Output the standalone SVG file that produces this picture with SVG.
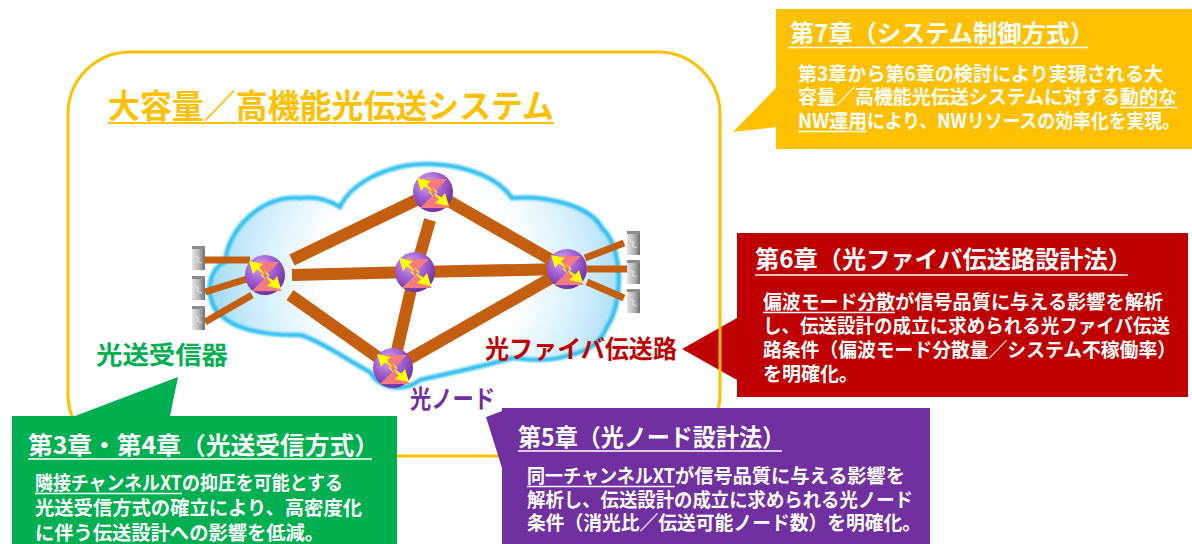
<svg xmlns="http://www.w3.org/2000/svg" xmlns:xlink="http://www.w3.org/1999/xlink" width="1192" height="544" viewBox="0 0 1192 544">
  <style>
    .t{font-family:"Noto Sans CJK JP","Noto Sans",sans-serif;font-weight:700}
    .h{font-size:24px}
    .b{font-size:19.5px}
    .lb{font-size:25px}
    .w{fill:#fff}
    .ul{stroke:#fff;stroke-width:1.6}
    .link{stroke:#C55F10;stroke-width:12;fill:none}
    .slink{stroke:#C55F10;stroke-width:7;fill:none}
  </style>
  <defs>
    <radialGradient id="cloudFill" gradientUnits="userSpaceOnUse" cx="420" cy="275" r="225">
      <stop offset="0" stop-color="#FFFFFF"/>
      <stop offset="0.45" stop-color="#FFFFFF"/>
      <stop offset="0.75" stop-color="#CDECFA"/>
      <stop offset="1" stop-color="#8FD3F2"/>
    </radialGradient>
    <radialGradient id="sph" cx="0.38" cy="0.3" r="0.75">
      <stop offset="0" stop-color="#D9A9F3"/>
      <stop offset="0.45" stop-color="#A663D6"/>
      <stop offset="1" stop-color="#6C2C9A"/>
    </radialGradient>
    <linearGradient id="srv" x1="0" y1="0" x2="1" y2="0">
      <stop offset="0" stop-color="#E6E6E6"/>
      <stop offset="0.55" stop-color="#B4B4B4"/>
      <stop offset="1" stop-color="#6E6E6E"/>
    </linearGradient>
    <filter id="soft" x="-10%" y="-10%" width="120%" height="120%">
      <feGaussianBlur stdDeviation="1.3"/>
    </filter>
    <!-- optical cross-connect icon: sphere, pink hourglass, two yellow arrows -->
    <g id="oxc">
      <circle r="20" fill="url(#sph)"/>
      <path d="M-16,-13 L14,-13 L-1,2 Z M-13,16 L17,16 L2,1 Z" fill="#F47C80"/>
      <path id="arw" d="M-16,-14 L-2,-11 L-6,-7.5 L-1,-2 L-3,-1 L1,5 L-4.5,0 L-2.5,-2 L-8.5,-5.5 L-12,-1 Z" fill="#FFFF00"/>
      <use xlink:href="#arw" href="#arw" transform="rotate(180)"/>
    </g>
    <!-- rack server -->
    <g id="server">
      <rect width="13" height="24" fill="url(#srv)"/>
      <rect width="13" height="3" fill="#8C8C8C"/>
      <path d="M3,10 L7,12 L5,15 L10,17" stroke="#F4F4F4" stroke-width="0.8" fill="none"/>
    </g>
  </defs>

  <rect width="1192" height="544" fill="#FFFFFF"/>

  <!-- chapter 6 callout (sits under the system frame line) -->
  <g id="callout-ch6">
    <path d="M737,233 H1188 V397 H737 V380 L682,349 L737,318 Z" fill="#C00000"/>
    <text class="t h w" x="755" y="268" textLength="377" lengthAdjust="spacingAndGlyphs">第6章（光ファイバ伝送路設計法）</text>
    <line class="ul" x1="755" y1="275" x2="1128" y2="275"/>
    <text class="t b w" x="763" y="309" textLength="132" lengthAdjust="spacingAndGlyphs">偏波モード分散</text>
    <line class="ul" x1="763" y1="312.5" x2="895" y2="312.5"/>
    <text class="t b w" x="895" y="309" textLength="268" lengthAdjust="spacingAndGlyphs">が信号品質に与える影響を解析</text>
    <text class="t b w" x="763" y="333" textLength="407" lengthAdjust="spacingAndGlyphs">し、伝送設計の成立に求められる光ファイバ伝送</text>
    <text class="t b w" x="763" y="357" textLength="413" lengthAdjust="spacingAndGlyphs">路条件（偏波モード分散量／システム不稼働率）</text>
    <text class="t b w" x="763" y="381" textLength="95" lengthAdjust="spacingAndGlyphs">を明確化。</text>
  </g>

  <!-- system frame -->
  <g id="system-frame">
    <rect x="68" y="52" width="652" height="404" rx="62" ry="62" fill="none" stroke="#FFC000" stroke-width="3"/>
    <text class="t" x="108" y="118" font-size="33" fill="#FFC000" textLength="446" lengthAdjust="spacingAndGlyphs">大容量／高機能光伝送システム</text>
    <line x1="108" y1="123" x2="554" y2="123" stroke="#FFC000" stroke-width="2"/>
  </g>

  <!-- network cloud -->
  <g id="cloud">
    <path id="cloudShape" d="M222,316 C205,305 205,270 225,262 C228,228 262,195 300,198 C318,196 332,202 340,207 C350,185 385,163 430,164 C470,165 500,180 512,198 C545,195 590,205 602,228 C622,245 625,300 607,327 C600,345 585,352 570,355 C550,362 530,360 512,358 C490,365 440,375 420,380 C405,392 380,390 370,372 C350,362 320,340 300,335 C270,336 235,330 222,316 Z" fill="url(#cloudFill)"/>
    <path d="M222,316 C205,305 205,270 225,262 C228,228 262,195 300,198 C318,196 332,202 340,207 C350,185 385,163 430,164 C470,165 500,180 512,198 C545,195 590,205 602,228 C622,245 625,300 607,327 C600,345 585,352 570,355 C550,362 530,360 512,358 C490,365 440,375 420,380 C405,392 380,390 370,372 C350,362 320,340 300,335 C270,336 235,330 222,316 Z" fill="none" stroke="#30C0F0" stroke-width="4.5" filter="url(#soft)"/>
  </g>

  <!-- fibre links -->
  <g id="connectors">
    <line class="link" x1="292" y1="260" x2="433" y2="192"/>
    <line class="link" x1="292" y1="275" x2="415" y2="272"/>
    <line class="link" x1="290" y1="295" x2="393" y2="368"/>
    <line class="link" x1="430" y1="220" x2="415" y2="272"/>
    <line class="link" x1="433" y1="192" x2="567" y2="269"/>
    <line class="link" x1="415" y1="272" x2="567" y2="269"/>
    <line class="link" x1="415" y1="272" x2="393" y2="368"/>
    <line class="link" x1="393" y1="368" x2="567" y2="269"/>
    <line class="slink" x1="205" y1="260" x2="250" y2="260"/>
    <line class="slink" x1="205" y1="292" x2="250" y2="278"/>
    <line class="slink" x1="205" y1="322" x2="252" y2="295"/>
    <line class="slink" x1="585" y1="258" x2="624" y2="243"/>
    <line class="slink" x1="587" y1="269" x2="628" y2="269"/>
    <line class="slink" x1="587" y1="282" x2="624" y2="298"/>
  </g>

  <!-- transceivers -->
  <g id="servers-left">
    <use xlink:href="#server" href="#server" x="192" y="246"/>
    <use xlink:href="#server" href="#server" x="192" y="276"/>
    <use xlink:href="#server" href="#server" x="192" y="306"/>
  </g>
  <g id="servers-right">
    <use xlink:href="#server" href="#server" x="627" y="231"/>
    <use xlink:href="#server" href="#server" x="627" y="260"/>
    <use xlink:href="#server" href="#server" x="627" y="289"/>
  </g>

  <!-- optical nodes -->
  <g id="node-west"><use xlink:href="#oxc" href="#oxc" x="265" y="275"/></g>
  <g id="node-north"><use xlink:href="#oxc" href="#oxc" x="433" y="192"/></g>
  <g id="node-centre"><use xlink:href="#oxc" href="#oxc" x="415" y="272"/></g>
  <g id="node-east"><use xlink:href="#oxc" href="#oxc" x="567" y="269"/></g>
  <g id="node-south"><use xlink:href="#oxc" href="#oxc" x="393" y="368"/></g>

  <!-- component labels -->
  <g id="labels">
    <text class="t lb" x="96" y="364" fill="#00B050" textLength="132" lengthAdjust="spacingAndGlyphs">光送受信器</text>
    <text class="t lb" x="485" y="358" fill="#C00000" textLength="192" lengthAdjust="spacingAndGlyphs">光ファイバ伝送路</text>
    <text class="t lb" x="410" y="408" fill="#7030A0" textLength="85" lengthAdjust="spacingAndGlyphs">光ノード</text>
  </g>

  <!-- chapter 3/4 callout -->
  <g id="callout-ch34">
    <path d="M12,416 H75 L178,377 L170,416 H397 V544 H12 Z" fill="#00B050"/>
    <text class="t h w" x="28" y="454" textLength="351" lengthAdjust="spacingAndGlyphs">第3章・第4章（光送受信方式）</text>
    <line class="ul" x1="28" y1="459" x2="372" y2="459"/>
    <text class="t b w" x="35" y="490" textLength="147" lengthAdjust="spacingAndGlyphs">隣接チャンネルXT</text>
    <line class="ul" x1="35" y1="493.5" x2="182" y2="493.5"/>
    <text class="t b w" x="182" y="490" textLength="161" lengthAdjust="spacingAndGlyphs">の抑圧を可能とする</text>
    <text class="t b w" x="35" y="515" textLength="327" lengthAdjust="spacingAndGlyphs">光送受信方式の確立により、高密度化</text>
    <text class="t b w" x="35" y="540" textLength="289" lengthAdjust="spacingAndGlyphs">に伴う伝送設計への影響を低減。</text>
  </g>

  <!-- chapter 5 callout -->
  <g id="callout-ch5">
    <path d="M502,408 H930 V544 H502 V468 L486,417 L502,411 Z" fill="#7030A0"/>
    <text class="t h w" x="518" y="446" textLength="267" lengthAdjust="spacingAndGlyphs">第5章（光ノード設計法）</text>
    <line class="ul" x1="518" y1="451" x2="782" y2="451"/>
    <text class="t b w" x="527" y="483" textLength="148" lengthAdjust="spacingAndGlyphs">同一チャンネルXT</text>
    <line class="ul" x1="527" y1="486.5" x2="675" y2="486.5"/>
    <text class="t b w" x="675" y="483" textLength="230" lengthAdjust="spacingAndGlyphs">が信号品質に与える影響を</text>
    <text class="t b w" x="527" y="507" textLength="386" lengthAdjust="spacingAndGlyphs">解析し、伝送設計の成立に求められる光ノード</text>
    <text class="t b w" x="527" y="530" textLength="394" lengthAdjust="spacingAndGlyphs">条件（消光比／伝送可能ノード数）を明確化。</text>
  </g>

  <!-- chapter 7 callout -->
  <g id="callout-ch7">
    <path d="M776,9 H1192 V149 H776 V127 L733,132 L776,88 Z" fill="#FFC000"/>
    <text class="t h w" x="790" y="42" textLength="304" lengthAdjust="spacingAndGlyphs">第7章（システム制御方式）</text>
    <line class="ul" x1="788" y1="47.5" x2="1088" y2="47.5"/>
    <text class="t b w" x="798" y="81" textLength="365" lengthAdjust="spacingAndGlyphs">第3章から第6章の検討により実現される大</text>
    <text class="t b w" x="798" y="104" textLength="322" lengthAdjust="spacingAndGlyphs">容量／高機能光伝送システムに対する</text>
    <text class="t b w" x="1120" y="104" textLength="57" lengthAdjust="spacingAndGlyphs">動的な</text>
    <line class="ul" x1="1120" y1="107.5" x2="1177" y2="107.5"/>
    <text class="t b w" x="798" y="128" textLength="69" lengthAdjust="spacingAndGlyphs">NW運用</text>
    <line class="ul" x1="798" y1="131.5" x2="867" y2="131.5"/>
    <text class="t b w" x="867" y="128" textLength="313" lengthAdjust="spacingAndGlyphs">により、NWリソースの効率化を実現。</text>
  </g>
</svg>
